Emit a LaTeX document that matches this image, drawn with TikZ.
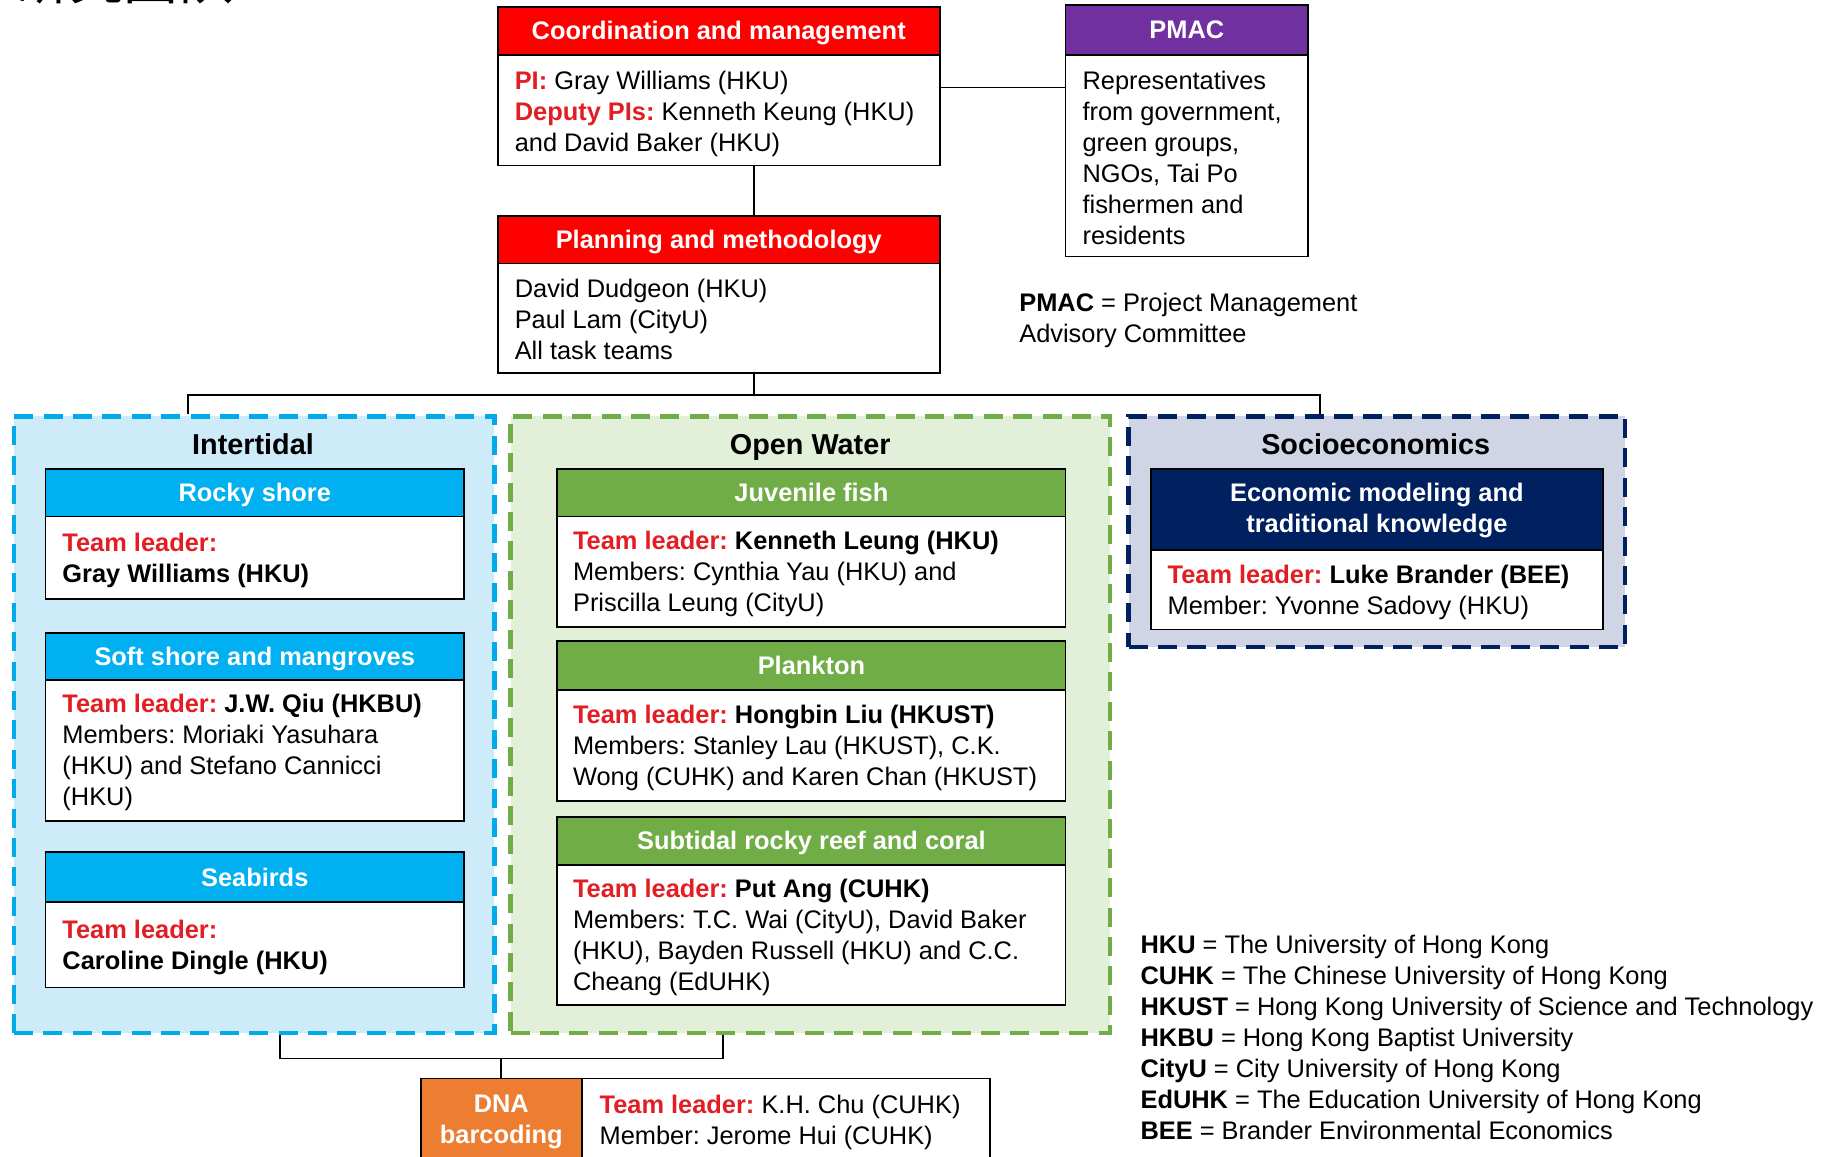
\documentclass[tikz,border=0pt]{standalone}
\usepackage{fontspec}
\setmainfont{Liberation Sans}
\newfontfamily\cjkfont{Noto Sans CJK SC}
\usetikzlibrary{fit,calc}
\definecolor{tlred}{RGB}{226,30,36}
\definecolor{hdrred}{RGB}{255,0,0}
\definecolor{pmacpurple}{RGB}{112,48,160}
\definecolor{hdrblue}{RGB}{0,176,240}
\definecolor{hdrgreen}{RGB}{112,173,71}
\definecolor{hdrnavy}{RGB}{0,32,96}
\definecolor{dnaorange}{RGB}{237,125,49}
\definecolor{interfill}{RGB}{205,235,248}
\definecolor{interdash}{RGB}{0,170,235}
\definecolor{openfill}{RGB}{226,240,217}
\definecolor{opendash}{RGB}{112,173,71}
\definecolor{sociofill}{RGB}{207,213,228}
\definecolor{sociodash}{RGB}{0,32,96}
\newcommand\mybody{\fontsize{12.7pt}{15.45pt}\selectfont\frenchspacing}
\newcommand\myhdr{\fontsize{12.7pt}{15.45pt}\selectfont\bfseries\frenchspacing}
\newcommand\mytitle{\fontsize{14.4pt}{17pt}\selectfont\bfseries}
\newcommand\tl{\textcolor{tlred}{\bfseries Team leader:}}
\tikzset{
  box/.style={draw=black, line width=0.9pt, inner sep=0pt},
  hdr/.style={box},
  hdrtext/.style={text=white, font=\myhdr, align=center, inner sep=0pt, anchor=base},
  bodybox/.style={box, fill=white},
  txt/.style={anchor=west, align=left, inner sep=0pt, font=\mybody},
  group/.style={inner sep=0pt, line width=2.3pt, dash pattern=on 9.5pt off 5.2pt},
  gtitle/.style={font=\mytitle, inner sep=0pt, anchor=base},
  conn/.style={line width=0.9pt, draw=black},
}
\begin{document}
\begin{tikzpicture}[x=0.5829pt,y=-0.5829pt]
\useasboundingbox (0,0) rectangle (1568,992);

% cut-off title
\node[anchor=base west, inner sep=0pt, font={\cjkfont\fontsize{27.4pt}{30pt}\selectfont}] (cntitle) at (12,-0.5) {研究团队};

% Coordination
\node[hdr, fill=hdrred, fit={(427,6) (806,47)}] (coordH) {};
\node[hdrtext] (coordHT) at ($(coordH.center)+(0,7.5)$) {Coordination and management};
\node[bodybox, fit={(427,47) (806,142)}] (coordB) {};
\node[txt] (coordT) at ($(coordB.west)+(15,3)$) {\textcolor{tlred}{\bfseries PI:} Gray Williams (HKU)\\\textcolor{tlred}{\bfseries Deputy PIs:} Kenneth Keung (HKU)\\and David Baker (HKU)};

% PMAC
\node[hdr, fill=pmacpurple, fit={(914,4) (1122,47)}] (pmacH) {};
\node[hdrtext] (pmacHT) at ($(pmacH.center)+(0,7.5)$) {PMAC};
\node[bodybox, fit={(914,47) (1122,220)}] (pmacB) {};
\node[txt] (pmacT) at ($(pmacB.west)+(15,2)$) {Representatives\\from government,\\green groups,\\NGOs, Tai Po\\fishermen and\\residents};

% Planning
\node[hdr, fill=hdrred, fit={(427,185) (806,226)}] (planH) {};
\node[hdrtext] (planHT) at ($(planH.center)+(0,7.5)$) {Planning and methodology};
\node[bodybox, fit={(427,226) (806,320)}] (planB) {};
\node[txt] (planT) at ($(planB.west)+(15,1)$) {David Dudgeon (HKU)\\Paul Lam (CityU)\\All task teams};

\node[txt] (pmacLegend) at (874,275) {\textbf{PMAC} = Project Management\\Advisory Committee};

% Groups
\node[group, fill=interfill, draw=interdash, fit={(12,357) (424,886)}] (inter) {};
\node[group, fill=openfill, draw=opendash, fit={(438,357) (952,886)}] (open) {};
\node[group, fill=sociofill, draw=sociodash, fit={(968,357) (1394,555)}] (socio) {};
\node[gtitle] (interT) at (217,390) {Intertidal};
\node[gtitle] (openT) at (695,390) {Open Water};
\node[gtitle] (socioT) at (1180,390) {Socioeconomics};

% Intertidal teams
\node[hdr, fill=hdrblue, fit={(39,402) (398,443)}] (rockH) {};
\node[hdrtext] (rockHT) at ($(rockH.center)+(0,7.5)$) {Rocky shore};
\node[bodybox, fit={(39,443) (398,514)}] (rockB) {};
\node[txt] (rockT) at ($(rockB.west)+(15,2)$) {\tl\\\textbf{Gray Williams (HKU)}};

\node[hdr, fill=hdrblue, fit={(39,543) (398,583)}] (softH) {};
\node[hdrtext] (softHT) at ($(softH.center)+(0,7.5)$) {Soft shore and mangroves};
\node[bodybox, fit={(39,583) (398,704)}] (softB) {};
\node[txt] (softT) at ($(softB.west)+(15,2)$) {\tl{} \textbf{J.W. Qiu (HKBU)}\\Members: Moriaki Yasuhara\\(HKU) and Stefano Cannicci\\(HKU)};

\node[hdr, fill=hdrblue, fit={(39,731) (398,774)}] (birdH) {};
\node[hdrtext] (birdHT) at ($(birdH.center)+(0,8)$) {Seabirds};
\node[bodybox, fit={(39,774) (398,847)}] (birdB) {};
\node[txt] (birdT) at ($(birdB.west)+(15,2)$) {\tl\\\textbf{Caroline Dingle (HKU)}};

% Open water teams
\node[hdr, fill=hdrgreen, fit={(478,402) (914,443)}] (fishH) {};
\node[hdrtext] (fishHT) at ($(fishH.center)+(0,7.5)$) {Juvenile fish};
\node[bodybox, fit={(478,443) (914,538)}] (fishB) {};
\node[txt] (fishT) at ($(fishB.west)+(14,2)$) {\tl{} \textbf{Kenneth Leung (HKU)}\\Members: Cynthia Yau (HKU) and\\Priscilla Leung (CityU)};

\node[hdr, fill=hdrgreen, fit={(478,550) (914,592)}] (plankH) {};
\node[hdrtext] (plankHT) at ($(plankH.center)+(0,7.5)$) {Plankton};
\node[bodybox, fit={(478,592) (914,687)}] (plankB) {};
\node[txt] (plankT) at ($(plankB.west)+(14,2)$) {\tl{} \textbf{Hongbin Liu (HKUST)}\\Members: Stanley Lau (HKUST), C.K.\\Wong (CUHK) and Karen Chan (HKUST)};

\node[hdr, fill=hdrgreen, fit={(478,701) (914,742)}] (reefH) {};
\node[hdrtext] (reefHT) at ($(reefH.center)+(0,7.5)$) {Subtidal rocky reef and coral};
\node[bodybox, fit={(478,742) (914,862)}] (reefB) {};
\node[txt] (reefT) at ($(reefB.west)+(14,2)$) {\tl{} \textbf{Put Ang (CUHK)}\\Members: T.C. Wai (CityU), David Baker\\(HKU), Bayden Russell (HKU) and C.C.\\Cheang (EdUHK)};

% Socioeconomics team
\node[hdr, fill=hdrnavy, fit={(987,402) (1375,472)}] (econH) {};
\node[hdrtext, anchor=center] (econHT) at ($(econH.center)+(0,1)$) {Economic modeling and\\traditional knowledge};
\node[bodybox, fit={(987,472) (1375,540)}] (econB) {};
\node[txt] (econT) at ($(econB.west)+(15,2)$) {\tl{} \textbf{Luke Brander (BEE)}\\Member: Yvonne Sadovy (HKU)};

% DNA barcoding
\node[hdr, fill=dnaorange, fit={(361,925) (499,1000)}] (dnaH) {};
\node[hdrtext, anchor=center] (dnaL) at (430,962) {DNA\\barcoding};
\node[bodybox, fit={(499,925) (849,1000)}] (dnaB) {};
\node[txt] (dnaT) at (514,963) {\tl{} K.H. Chu (CUHK)\\Member: Jerome Hui (CUHK)};

% Legend
\node[txt] (legend) at (978,890) {\textbf{HKU} = The University of Hong Kong\\
\textbf{CUHK} = The Chinese University of Hong Kong\\
\textbf{HKUST} = Hong Kong University of Science and Technology\\
\textbf{HKBU} = Hong Kong Baptist University\\
\textbf{CityU} = City University of Hong Kong\\
\textbf{EdUHK} = The Education University of Hong Kong\\
\textbf{BEE} = Brander Environmental Economics};

% Connectors
\coordinate (h1) at (0,75);
\coordinate (v1) at (647,0);
\coordinate (busL) at (161,339);
\coordinate (busR) at (1132,339);
\coordinate (brL) at (240,908);
\coordinate (brR) at (620,908);
\draw[conn] (coordB.east |- h1) -- (pmacB.west |- h1);
\draw[conn] (coordB.south -| v1) -- (planH.north -| v1);
\draw[conn] (planB.south -| v1) -- (busL -| v1);
\draw[conn] (inter.north -| busL) -- (busL) -- (busR) -- (socio.north -| busR);
\draw[conn] (inter.south -| brL) -- (brL) -- (brR) -- (open.south -| brR);
\draw[conn] (brL -| dnaH.north) -- (dnaH.north);
\end{tikzpicture}
\end{document}
